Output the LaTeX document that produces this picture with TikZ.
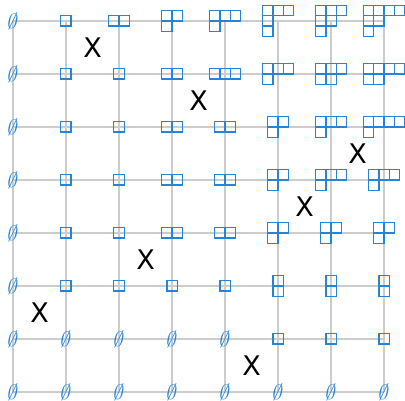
\documentclass[tikz,border=0pt]{standalone}
\usepackage{fontspec}
\usepackage{tikz}
\usetikzlibrary{calc}
\newfontfamily\crossfont{DejaVu Sans}
\definecolor{yblue}{RGB}{38,132,214}
\colorlet{gridgray}{gray!40}
\tikzset{
  gridline/.style={gridgray, line width=1.6pt},
  ybox/.style={draw=yblue, line width=1.4pt},
  emptyshape/.style={text=yblue, inner sep=0pt, font=\fontsize{21}{21}\selectfont, xslant=0.2},
  cross/.style={inner sep=0pt, font=\crossfont\fontsize{27}{27}\selectfont},
}
\def\cell{10.4pt}

\begin{document}
\begin{tikzpicture}[x=53pt, y=53pt]
  \useasboundingbox (-13pt,-9pt) rectangle (392pt,392pt);
  % grid points
  \foreach \i in {0,...,7}
    \foreach \j in {0,...,7}
      \coordinate (p-\i-\j) at (\i,\j);
  \foreach \k in {0,...,7} {
    \draw[gridline] (p-0-\k) -- (p-7-\k);
    \draw[gridline] (p-\k-0) -- (p-\k-7);
  }
  % empty shapes
  \foreach \i/\j in {0/0,1/0,2/0,3/0,4/0,5/0,6/0,7/0,
                     0/1,1/1,2/1,3/1,4/1,0/2,0/3,0/4,0/5,0/6,0/7}
    \node[emptyshape] (e-\i-\j) at (p-\i-\j) {$\emptyset$};
  % --- Young diagrams: i/j/width/height/row lengths ---
  \foreach \i/\j/\w/\h/\rows in {
      5/1/1/1/{1}, 6/1/1/1/{1}, 7/1/1/1/{1},
      1/2/1/1/{1}, 2/2/1/1/{1}, 3/2/1/1/{1}, 4/2/1/1/{1},
      5/2/1/2/{1,1}, 6/2/1/2/{1,1}, 7/2/1/2/{1,1},
      1/3/1/1/{1}, 2/3/1/1/{1}, 3/3/2/1/{2}, 4/3/2/1/{2},
      5/3/2/2/{2,1}, 6/3/2/2/{2,1}, 7/3/2/2/{2,1},
      1/4/1/1/{1}, 2/4/1/1/{1}, 3/4/2/1/{2}, 4/4/2/1/{2},
      5/4/2/2/{2,1}, 6/4/3/2/{3,1}, 7/4/3/2/{3,1},
      1/5/1/1/{1}, 2/5/1/1/{1}, 3/5/2/1/{2}, 4/5/2/1/{2},
      5/5/2/2/{2,1}, 6/5/3/2/{3,1}, 7/5/4/2/{4,1},
      1/6/1/1/{1}, 2/6/1/1/{1}, 3/6/2/1/{2}, 4/6/3/1/{3},
      5/6/3/2/{3,1}, 6/6/3/2/{3,2}, 7/6/4/2/{4,2},
      1/7/1/1/{1}, 2/7/2/1/{2}, 3/7/2/2/{2,1}, 4/7/3/2/{3,1},
      5/7/3/3/{3,1,1}, 6/7/3/3/{3,2,1}, 7/7/4/3/{4,2,1}} {
    \foreach \len [count=\r from 0] in \rows
      \foreach \k in {1,...,\len}
        \draw[ybox] ($(p-\i-\j)+({(\k-1-\w/2)*\cell},{(\h/2-\r)*\cell})$) rectangle ++(\cell,-\cell);
  }
  % permutation crosses
  \foreach \c/\r in {1/2, 2/7, 3/3, 4/6, 5/1, 6/4, 7/5}
    \node[cross] (x-\c) at (\c-0.5,\r-0.5) {X};
\end{tikzpicture}
\end{document}
